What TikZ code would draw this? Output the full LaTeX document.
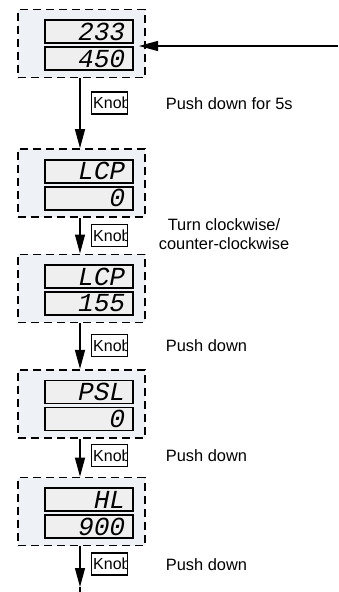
\documentclass[tikz,border=0pt]{standalone}
\usepackage{fontspec}
\setmainfont{Liberation Sans}
\newfontfamily\segfont[FakeSlant=0.2]{Liberation Mono}
\usetikzlibrary{arrows.meta}
\definecolor{boxfill}{HTML}{EEF2F7}
\definecolor{dispfill}{HTML}{EFEFEF}
\tikzset{
  x=1pt, y=-1pt,
  unitbox/.style={draw, dash pattern=on 8pt off 5pt, line width=1.6pt, fill=boxfill,
    minimum width=127pt, minimum height=68pt, inner sep=0pt},
  disp/.style={draw, line width=1.7pt, fill=dispfill, minimum width=88pt, minimum height=23pt, inner sep=0pt},
  segtxt/.style={anchor=east, inner sep=0pt, font=\segfont\fontsize{26}{26}\selectfont},
  knobbox/.style={draw, line width=1.3pt, minimum width=36pt, minimum height=22pt, inner sep=0pt},
  knobtxt/.style={anchor=west, inner sep=0pt, font=\fontsize{16}{16}\selectfont},
  lbl/.style={inner sep=0pt, font=\fontsize{16.4}{19}\selectfont},
  arr/.style={line width=1.2pt, -{Triangle[length=19pt, width=10pt]}},
}
\newcommand{\unit}[4]{% name, center y, top text, bottom text
  \node[unitbox] (#1) at (81.5,#2) {};
  \node[disp] (#1a) at (89,#2-11.8) {};
  \node[disp] (#1b) at (89,#2+15.2) {};
  \node[segtxt] (#1at) at (124,#2-11.8) {#3};
  \node[segtxt] (#1bt) at (124,#2+15.2) {#4};
}
\newcommand{\knob}[2]{% name, center y
  \begin{scope}
    \clip (91.7,#2-11) rectangle (127.7,#2+11);
    \node[knobtxt] (#1t) at (93,#2) {Knob};
  \end{scope}
  \node[knobbox] (#1) at (109.7,#2) {};
}
\begin{document}
\begin{tikzpicture}
\useasboundingbox (0,0) rectangle (338,592);
\unit{b1}{43.5}{233}{450}
\unit{b2}{183}{LCP}{0}
\unit{b3}{288.3}{LCP}{155}
\unit{b4}{403.7}{PSL}{0}
\unit{b5}{511.5}{HL}{900}
\coordinate (src) at (338,46);
\coordinate (end) at (80,592);
\draw[arr] (src) -- (139,46) coordinate (tip1);
\draw[arr] ([xshift=-1.5pt]b1.south) -- ([xshift=-1.5pt]b2.north);
\draw[arr] ([xshift=-1.5pt]b2.south) -- ([xshift=-1.5pt]b3.north);
\draw[arr] ([xshift=-1.5pt]b3.south) -- ([xshift=-1.5pt]b4.north);
\draw[arr] ([xshift=-1.5pt]b4.south) -- ([xshift=-1.5pt]b5.north);
\draw[arr] ([xshift=-1.5pt]b5.south) -- (80,587) coordinate (tip5);
\draw[line width=1.2pt] (tip5) -- (end);
\knob{k1}{103}
\knob{k2}{235.5}
\knob{k3}{345.5}
\knob{k4}{455.7}
\knob{k5}{564}
\node[lbl, anchor=west] (l1) at (165.7,104) {Push down for 5s};
\node[lbl, align=center] (l2) at (224,234.5) {Turn clockwise/\\counter-clockwise};
\node[lbl, anchor=west] (l3) at (165.7,345.5) {Push down};
\node[lbl, anchor=west] (l4) at (165.7,455.7) {Push down};
\node[lbl, anchor=west] (l5) at (165.7,565) {Push down};
\end{tikzpicture}
\end{document}
